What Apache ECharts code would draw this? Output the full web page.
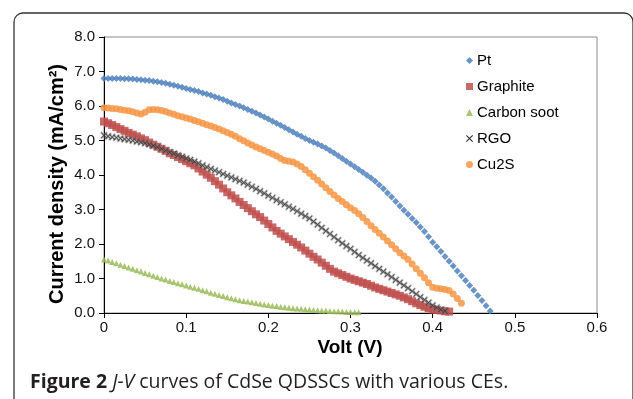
<!DOCTYPE html>
<html>
<head>
<meta charset="utf-8">
<script src="https://cdn.jsdelivr.net/npm/echarts@6/dist/echarts.min.js"></script>
<style>
  html, body { margin: 0; padding: 0; background: #fff; }
  #chart { width: 633px; height: 399px; }
</style>
</head>
<body>
<div id="chart"></div>
<script>
// measured voltage steps (V)
const volt = [0, 0.005, 0.01, 0.015, 0.02, 0.025, 0.03, 0.035, 0.04, 0.045,
  0.05, 0.055, 0.06, 0.065, 0.07, 0.075, 0.08, 0.085, 0.09, 0.095,
  0.10, 0.105, 0.11, 0.115, 0.12, 0.125, 0.13, 0.135, 0.14, 0.145,
  0.15, 0.155, 0.16, 0.165, 0.17, 0.175, 0.18, 0.185, 0.19, 0.195,
  0.20, 0.205, 0.21, 0.215, 0.22, 0.225, 0.23, 0.235, 0.24, 0.245,
  0.25, 0.255, 0.26, 0.265, 0.27, 0.275, 0.28, 0.285, 0.29, 0.295,
  0.30, 0.305, 0.31, 0.315, 0.32, 0.325, 0.33, 0.335, 0.34, 0.345,
  0.35, 0.355, 0.36, 0.365, 0.37, 0.375, 0.38, 0.385, 0.39, 0.395,
  0.40, 0.405, 0.41, 0.415, 0.42, 0.425, 0.43, 0.435, 0.44, 0.445,
  0.45, 0.455, 0.46, 0.465, 0.47]

// current density (mA/cm2), one value per voltage step
const ptJ = [6.80, 6.80, 6.80, 6.80, 6.80, 6.79, 6.79, 6.78, 6.77, 6.76,
  6.75, 6.74, 6.72, 6.70, 6.68, 6.66, 6.63, 6.60, 6.57, 6.54,
  6.51, 6.48, 6.45, 6.42, 6.38, 6.35, 6.31, 6.27, 6.23, 6.19,
  6.14, 6.09, 6.04, 6.00, 5.95, 5.90, 5.85, 5.80, 5.74, 5.68,
  5.62, 5.56, 5.50, 5.44, 5.38, 5.31, 5.25, 5.18, 5.12, 5.06,
  5.00, 4.95, 4.90, 4.84, 4.78, 4.71, 4.64, 4.56, 4.48, 4.40,
  4.32, 4.24, 4.16, 4.08, 3.99, 3.91, 3.82, 3.71, 3.60, 3.48,
  3.36, 3.23, 3.10, 2.98, 2.86, 2.74, 2.62, 2.49, 2.36, 2.21,
  2.05, 1.92, 1.78, 1.64, 1.50, 1.36, 1.22, 1.08, 0.94, 0.80,
  0.66, 0.51, 0.36, 0.21, 0.06]
const graphiteJ = [5.55, 5.50, 5.45, 5.39, 5.33, 5.28, 5.22, 5.17, 5.12, 5.06,
  5.01, 4.94, 4.88, 4.82, 4.76, 4.70, 4.63, 4.58, 4.52, 4.46,
  4.40, 4.34, 4.28, 4.19, 4.10, 4.01, 3.92, 3.82, 3.72, 3.61,
  3.50, 3.41, 3.32, 3.22, 3.13, 3.04, 2.95, 2.86, 2.78, 2.68,
  2.58, 2.48, 2.38, 2.30, 2.22, 2.14, 2.06, 1.98, 1.90, 1.81,
  1.72, 1.63, 1.55, 1.46, 1.37, 1.28, 1.20, 1.15, 1.10, 1.05,
  1.00, 0.96, 0.92, 0.88, 0.84, 0.79, 0.74, 0.70, 0.66, 0.62,
  0.58, 0.54, 0.50, 0.45, 0.40, 0.34, 0.28, 0.23, 0.18, 0.14,
  0.10, 0.09, 0.07, 0.05, 0.04]
const sootJ = [1.55, 1.52, 1.48, 1.44, 1.40, 1.36, 1.32, 1.28, 1.24, 1.20,
  1.16, 1.12, 1.08, 1.04, 1.00, 0.97, 0.93, 0.90, 0.86, 0.83,
  0.80, 0.76, 0.73, 0.70, 0.66, 0.63, 0.59, 0.56, 0.52, 0.49,
  0.46, 0.43, 0.40, 0.37, 0.35, 0.33, 0.31, 0.29, 0.27, 0.25,
  0.23, 0.21, 0.20, 0.18, 0.17, 0.15, 0.14, 0.13, 0.12, 0.11,
  0.10, 0.09, 0.08, 0.07, 0.07, 0.06, 0.05, 0.05, 0.04, 0.03,
  0.03, 0.02, 0.02]
const rgoJ = [5.15, 5.12, 5.10, 5.08, 5.06, 5.04, 5.02, 5.00, 4.97, 4.95,
  4.92, 4.89, 4.85, 4.81, 4.76, 4.71, 4.66, 4.62, 4.57, 4.53,
  4.48, 4.44, 4.39, 4.34, 4.28, 4.23, 4.18, 4.13, 4.08, 4.03,
  3.98, 3.93, 3.88, 3.83, 3.78, 3.72, 3.66, 3.60, 3.53, 3.47,
  3.40, 3.34, 3.27, 3.21, 3.15, 3.08, 3.02, 2.95, 2.88, 2.81,
  2.74, 2.65, 2.56, 2.47, 2.38, 2.29, 2.20, 2.11, 2.02, 1.94,
  1.86, 1.77, 1.68, 1.60, 1.52, 1.44, 1.36, 1.28, 1.20, 1.12,
  1.04, 0.96, 0.88, 0.80, 0.72, 0.63, 0.55, 0.46, 0.38, 0.30,
  0.22, 0.16, 0.10, 0.06]
const cu2sJ = [5.95, 5.94, 5.93, 5.92, 5.90, 5.88, 5.86, 5.83, 5.80, 5.77,
  5.82, 5.89, 5.90, 5.89, 5.87, 5.84, 5.80, 5.76, 5.72, 5.69,
  5.65, 5.62, 5.58, 5.54, 5.50, 5.46, 5.42, 5.38, 5.33, 5.28,
  5.23, 5.18, 5.12, 5.05, 4.99, 4.93, 4.87, 4.81, 4.76, 4.71,
  4.66, 4.61, 4.55, 4.48, 4.42, 4.40, 4.38, 4.32, 4.25, 4.15,
  4.05, 3.95, 3.85, 3.74, 3.63, 3.52, 3.42, 3.32, 3.23, 3.14,
  3.05, 2.97, 2.88, 2.77, 2.65, 2.53, 2.42, 2.31, 2.20, 2.09,
  1.98, 1.86, 1.75, 1.65, 1.55, 1.42, 1.28, 1.15, 1.02, 0.88,
  0.75, 0.72, 0.70, 0.68, 0.65, 0.55, 0.42, 0.28]

const seriesNames = ['Pt', 'Graphite', 'Carbon soot', 'RGO', 'Cu2S']
const xTicks = ['0', '0.1', '0.2', '0.3', '0.4', '0.5', '0.6']

const pairs = ys => ys.map((y, i) => [volt[i], y])
const crossPath = 'path://M0,1L1,0L5,4L9,0L10,1L6,5L10,9L9,10L5,6L1,10L0,9L4,5Z'

const chart = echarts.init(document.getElementById('chart'))

const mk = (name, data, symbol, color, size, extra) => ({
    name,
    type : 'scatter',
    data : pairs(data),
    symbol,
    symbolSize : size,
    itemStyle : Object.assign({ color, opacity : 0.85 }, extra || {}),
    emphasis : { disabled : true },
})

chart.setOption({
    animation : false,
    textStyle : { fontFamily : 'Liberation Sans' },
    grid : {
        left : 104, right : 36, top : 37, bottom : 86,
        show : true, borderColor : '#8c8c8c', borderWidth : 1,
    },
    legend : {
        orient : 'vertical',
        left : 466, top : 53,
        itemWidth : 7, itemHeight : 7,
        itemGap : 11,
        padding : 0,
        selectedMode : false,
        itemStyle : { borderWidth : 0 },
        textStyle : { fontSize : 15, color : '#000', padding : [0, 0, 0, -1] },
        data : seriesNames,
    },
    xAxis : {
        type : 'value', min : 0, max : 0.6, interval : 0.1,
        axisLine : { lineStyle : { color : '#000', width : 1 } },
        axisTick : { show : true, length : 5, lineStyle : { color : '#000' } },
        axisLabel : {
            fontSize : 15, color : '#111', margin : 7,
            formatter : v => xTicks[Math.round(v * 10)],
        },
        splitLine : { show : false },
    },
    yAxis : {
        type : 'value', min : 0, max : 8, interval : 1,
        axisLine : { show : true, lineStyle : { color : '#000', width : 1 } },
        axisTick : { show : true, length : 5, lineStyle : { color : '#000' } },
        axisLabel : { fontSize : 15, color : '#111', margin : 9, formatter : v => v.toFixed(1) },
        splitLine : { show : false },
    },
    graphic : [
        { type : 'rect', shape : { x : 14, y : 13, width : 619, height : 500, r : 9 },
          style : { fill : 'none', stroke : '#333', lineWidth : 1.3 } },
        { type : 'text', x : 57, y : 184, rotation : Math.PI / 2,
          style : { text : 'Current density (mA/cm²)', font : 'bold 20px "Liberation Sans"',
                    fill : '#000', textAlign : 'center', textVerticalAlign : 'middle' } },
        { type : 'text', x : 350, y : 348,
          style : { text : 'Volt (V)', font : 'bold 19px "Liberation Sans"',
                    fill : '#000', textAlign : 'center', textVerticalAlign : 'middle' } },
        { type : 'text', x : 30, y : 382,
          style : {
              text : '{b|Figure 2} {i|J-V} curves of CdSe QDSSCs with various CEs.',
              font : '19.5px "Open Sans"', fill : '#231f20', textVerticalAlign : 'middle',
              rich : {
                  b : { fontWeight : 'bold', fontSize : 19.5, fontFamily : 'Open Sans', fill : '#231f20' },
                  i : { fontStyle : 'italic', fontSize : 19.5, fontFamily : 'Open Sans', fill : '#231f20' },
              },
          } },
    ],
    series : [
        mk('Pt', ptJ, 'diamond', '#4f81bd', 7),
        mk('Graphite', graphiteJ, 'rect', '#c0504d', 8),
        mk('Carbon soot', sootJ, 'triangle', '#9bbb59', 6),
        mk('RGO', rgoJ, crossPath, '#000', 6, { borderColor : 'rgba(120,120,120,0.5)', borderWidth : 1.5 }),
        mk('Cu2S', cu2sJ, 'circle', '#f79646', 7),
    ],
})
</script>
</body>
</html>
